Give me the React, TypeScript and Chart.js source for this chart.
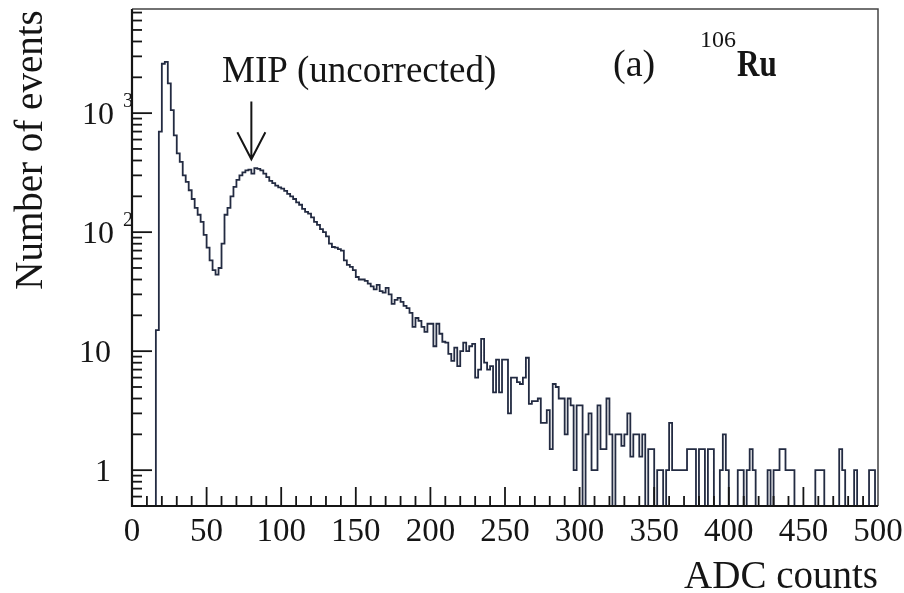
import React, { useEffect, useRef } from "react";
import { Chart, registerables } from "chart.js";

Chart.register(...registerables);

// Histogram: 250 bins of width 2 ADC counts, from 0 to 500
const binWidth = 2;
const counts: number[] = [
  // 0-18
  0, 0, 0, 0, 0, 0, 0, 0, 15,
  // 18-40
  700, 2600, 2700, 1780, 1060, 650, 460, 390, 300, 265, 225,
  // 40-60
  190, 160, 140, 122, 95, 74, 58, 48, 44, 50,
  // 60-80
  80, 140, 160, 200, 240, 275, 300, 318, 330, 335,
  // 80-100
  310, 345, 340, 330, 310, 290, 270, 258, 246, 238,
  // 100-120
  232, 222, 210, 200, 190, 178, 170, 157, 148, 143,
  // 120-140
  133, 122, 115, 106, 100, 92, 80, 75, 74, 72,
  // 140-160
  70, 58, 53, 51, 48, 42, 40, 40, 39, 37,
  // 160-180
  35, 33, 36, 32, 31, 34, 30, 25, 27, 28,
  // 180-200
  26, 24, 23, 21, 16, 19, 18, 16, 14.5, 17,
  // 200-220
  17, 11, 17, 14, 12, 11.8, 9.5, 8.3, 10.7, 7.5,
  // 220-240
  10, 11.8, 10, 11, 11.5, 6, 7, 12.7, 8, 7,
  // 240-260
  7.5, 4.5, 8.5, 4.5, 8.5, 8.5, 3, 6, 6, 5.5,
  // 260-280
  5.3, 6, 8.8, 3.6, 3.8, 3.8, 4, 2.5, 2.5, 3.2,
  // 280-300
  1.5, 5.3, 5, 4, 4, 2, 4, 3.5, 1, 3.5,
  // 300-320
  3.5, 0, 2, 3, 1, 1, 3.5, 1.5, 1.5, 4,
  // 320-340
  2, 0, 2, 2, 1.6, 2, 3, 1.3, 2, 2,
  // 340-360
  1.3, 2, 0, 1.5, 1.5, 0, 1, 1, 0, 1,
  // 360-380
  2.5, 1, 1, 1, 1, 1, 1.5, 1.5, 1.5, 0,
  // 380-400
  1.5, 1.5, 0, 1.5, 1.5, 0, 0, 1, 2, 1,
  // 400-420
  0, 0, 0, 1, 1, 0, 1, 1.5, 1, 0,
  // 420-440
  0, 0, 0, 1, 0, 1, 1, 1.5, 1.5, 1,
  // 440-460
  1, 1, 0, 0, 0, 0, 0, 0, 0, 1,
  // 460-480
  1, 1, 0, 0, 0, 0, 0, 1.5, 1, 0,
  // 480-500
  0, 0, 1, 0, 0, 0, 0, 1, 1, 0,
];

const xMin = 0;
const xMax = 500;
const yMin = 0.5;
const yMax = 7500;
const xMajorTicks = [0, 50, 100, 150, 200, 250, 300, 350, 400, 450, 500];
const yDecades = [1, 10, 100, 1000];
const yTickLabels = ["1", "10", "10", "10"];
const yTickExponents = ["", "", "2", "3"];

const xTitle = "ADC counts";
const yTitle = "Number of events";
const annotationText = "MIP (uncorrected)";
const arrowX = 80;
const arrowTop = 1250;
const arrowTip = 410;
const panelLabel = "(a)";
const isotopeMass = "106";
const isotopeName = "Ru";

const SERIF = "'Liberation Serif', 'DejaVu Serif', serif";
const LINE_COLOR = "#232b42";
const INK = "#151515";

const framePlugin = {
  id: "frame",
  afterDatasetsDraw(chart: any) {
    const { ctx, chartArea, scales } = chart;
    const xs = scales.x;
    const ys = scales.y;
    const { left, right, top, bottom } = chartArea;
    ctx.save();
    // frame
    ctx.strokeStyle = "#444";
    ctx.lineWidth = 1.5;
    ctx.beginPath();
    ctx.moveTo(left, top);
    ctx.lineTo(right, top);
    ctx.lineTo(right, bottom);
    ctx.stroke();
    ctx.strokeStyle = INK;
    ctx.lineWidth = 2.2;
    ctx.beginPath();
    ctx.moveTo(left, top);
    ctx.lineTo(left, bottom);
    ctx.lineTo(right, bottom);
    ctx.stroke();

    // x ticks (inward)
    ctx.lineWidth = 1.8;
    for (let v = xMin + 10; v < xMax; v += 10) {
      const px = xs.getPixelForValue(v);
      const len = v % 50 === 0 ? 19 : 10;
      ctx.beginPath();
      ctx.moveTo(px, bottom);
      ctx.lineTo(px, bottom - len);
      ctx.stroke();
    }
    // y ticks (inward)
    for (let d = 0.1; d < yMax; d *= 10) {
      for (let m = 1; m <= 9; m++) {
        const v = d * m;
        if (v < yMin || v > yMax) continue;
        const py = ys.getPixelForValue(v);
        const len = m === 1 ? 20 : 10;
        ctx.beginPath();
        ctx.moveTo(left, py);
        ctx.lineTo(left + len, py);
        ctx.stroke();
      }
    }

    // x tick labels
    ctx.fillStyle = INK;
    ctx.font = `33px ${SERIF}`;
    ctx.textAlign = "center";
    ctx.textBaseline = "alphabetic";
    xMajorTicks.forEach((v) => {
      ctx.fillText(String(v), xs.getPixelForValue(v), bottom + 35);
    });

    // y tick labels
    yDecades.forEach((v, i) => {
      const py = ys.getPixelForValue(v);
      ctx.font = `32px ${SERIF}`;
      ctx.textAlign = "right";
      ctx.textBaseline = "alphabetic";
      const exp = yTickExponents[i];
      const rx = exp ? 114 : 111;
      ctx.fillText(yTickLabels[i], rx, py + 11);
      if (exp) {
        ctx.font = `20px ${SERIF}`;
        ctx.textAlign = "left";
        ctx.fillText(exp, 123, py - 6);
      }
    });

    // axis titles
    ctx.font = `39px ${SERIF}`;
    ctx.textAlign = "right";
    ctx.fillText(xTitle, right, 588);

    ctx.save();
    ctx.translate(42, 150);
    ctx.rotate(-Math.PI / 2);
    ctx.font = `39px ${SERIF}`;
    ctx.textAlign = "center";
    ctx.fillText(yTitle, 0, 0);
    ctx.restore();

    // annotation
    ctx.font = `37px ${SERIF}`;
    ctx.textAlign = "left";
    ctx.fillText(annotationText, 222, 82);

    const ax = xs.getPixelForValue(arrowX);
    const ay0 = ys.getPixelForValue(arrowTop);
    const ay1 = ys.getPixelForValue(arrowTip);
    ctx.strokeStyle = INK;
    ctx.lineWidth = 2;
    ctx.beginPath();
    ctx.moveTo(ax, ay0);
    ctx.lineTo(ax, ay1);
    ctx.moveTo(ax - 14, ay1 - 27);
    ctx.lineTo(ax, ay1);
    ctx.lineTo(ax + 14, ay1 - 27);
    ctx.stroke();

    // panel label
    ctx.font = `38px ${SERIF}`;
    ctx.textAlign = "left";
    ctx.fillText(panelLabel, 613, 76);
    ctx.font = `24px ${SERIF}`;
    ctx.fillText(isotopeMass, 700, 47);
    const mw = ctx.measureText(isotopeMass).width;
    ctx.save();
    ctx.translate(700 + mw + 1, 76);
    ctx.scale(0.84, 1);
    ctx.font = `bold 37px ${SERIF}`;
    ctx.fillText(isotopeName, 0, 0);
    ctx.restore();

    ctx.restore();
  },
};

export default function App() {
  const canvasRef = useRef<HTMLCanvasElement | null>(null);

  useEffect(() => {
    document.body.style.margin = "0";
    const canvas = canvasRef.current;
    if (!canvas) return;
    const pts = counts.map((c, i) => ({ x: xMin + i * binWidth, y: c > 0 ? c : 0.01 }));
    pts.push({ x: xMax, y: counts[counts.length - 1] > 0 ? counts[counts.length - 1] : 0.01 });

    const chart = new Chart(canvas, {
      type: "line",
      data: {
        datasets: [
          {
            data: pts,
            stepped: "before",
            borderColor: LINE_COLOR,
            borderWidth: 1.8,
            pointRadius: 0,
            fill: false,
            tension: 0,
          },
        ],
      },
      options: {
        responsive: false,
        animation: false,
        parsing: true,
        layout: { padding: { left: 132, right: 26, top: 9, bottom: 87 } },
        plugins: {
          legend: { display: false },
          tooltip: { enabled: false },
        },
        scales: {
          x: { type: "linear", min: xMin, max: xMax, display: false },
          y: { type: "logarithmic", min: yMin, max: yMax, display: false },
        },
      },
      plugins: [framePlugin],
    });
    return () => chart.destroy();
  }, []);

  return (
    <div style={{ position: "absolute", left: 0, top: 0, width: 904, height: 593, background: "#fff" }}>
      <canvas ref={canvasRef} width={904} height={593} style={{ display: "block" }} />
    </div>
  );
}
